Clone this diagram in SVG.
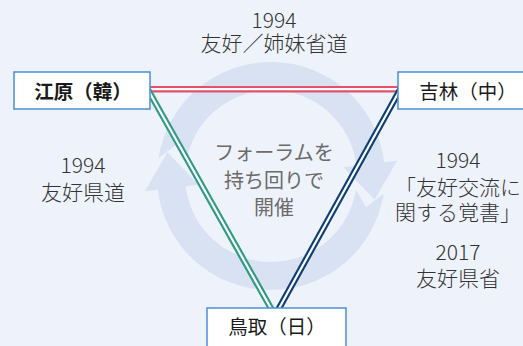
<svg xmlns="http://www.w3.org/2000/svg" width="523" height="346" viewBox="0 0 523 346">
<style>
.t{font-family:"Noto Sans CJK JP","Noto Sans",sans-serif;font-size:21px;fill:#333;font-weight:300;text-anchor:middle}
.c{font-family:"Noto Sans CJK JP","Noto Sans",sans-serif;font-size:20px;fill:#6b6b6b;text-anchor:middle}
.n{font-family:"Noto Sans CJK JP","Noto Sans",sans-serif;font-size:19.5px;fill:#1a1a1a;text-anchor:middle}
.box{fill:#fff;stroke:#4a8fd6;stroke-width:1.5}
.ring{fill:#d8e2f3}
.gap{stroke:#fff;stroke-width:2.2;fill:none}
</style>
<rect width="523" height="346" fill="#eef3fb"/>
<g id="cycle">
<path class="ring" d="M 383.6 193.8 A 114 114 0 0 1 157.8 189.7 L 144.9 191.3 L 167.4 152.3 L 198.5 184.8 L 185.6 186.3 A 86 86 0 0 0 355.9 189.5 L 366.1 206.9 Z"/>
<path class="ring" d="M 158.4 158.2 A 114 114 0 0 1 384.2 162.3 L 397.1 160.7 L 374.6 199.7 L 343.5 167.2 L 356.4 165.7 A 86 86 0 0 0 186.1 162.5 L 175.9 145.1 Z"/>
</g>
<g id="connectors">
<line x1="140" y1="89.2" x2="410" y2="89.2" stroke="#e8506a" stroke-width="6.5"/>
<line x1="140" y1="89.2" x2="410" y2="89.2" class="gap"/>
<line x1="147" y1="88" x2="273" y2="312" stroke="#2f9a86" stroke-width="6.5"/>
<line x1="147" y1="88" x2="273" y2="312" class="gap"/>
<line x1="401" y1="88" x2="277" y2="312" stroke="#0e3f74" stroke-width="6.5"/>
<line x1="401" y1="88" x2="277" y2="312" class="gap"/>
</g>
<g id="label-top">
<text class="t" x="274" y="28">1994</text>
<text class="t" x="274" y="51">友好／姉妹省道</text>
</g>
<g id="label-left">
<text class="t" x="83" y="173">1994</text>
<text class="t" x="83" y="200">友好県道</text>
</g>
<g id="label-right">
<text class="t" x="458" y="168">1994</text>
<text class="t" x="458" y="195">「友好交流に</text>
<text class="t" x="458" y="220">関する覚書」</text>
<text class="t" x="458" y="260">2017</text>
<text class="t" x="458" y="286">友好県省</text>
</g>
<g id="label-center">
<text class="c" x="274" y="160">フォーラムを</text>
<text class="c" x="274" y="188">持ち回りで</text>
<text class="c" x="274" y="215">開催</text>
</g>
<g id="node-gangwon">
<rect class="box" x="14" y="72" width="136" height="37"/>
<text class="n" x="83" y="98.5" font-weight="bold">江原（韓）</text>
</g>
<g id="node-jilin">
<rect class="box" x="398" y="72" width="136" height="37"/>
<text class="n" x="468" y="98.5">吉林（中）</text>
</g>
<g id="node-tottori">
<rect class="box" x="207" y="308" width="139" height="40"/>
<text class="n" x="277" y="334">鳥取（日）</text>
</g>
</svg>
